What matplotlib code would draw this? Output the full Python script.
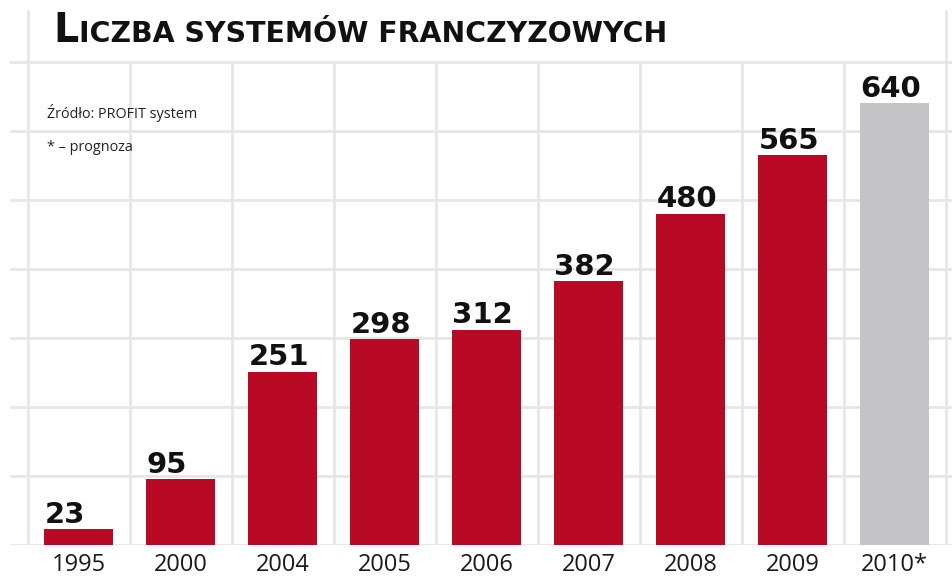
import matplotlib
matplotlib.use("Agg")
import matplotlib.pyplot as plt

# Data
years = ["1995", "2000", "2004", "2005", "2006", "2007", "2008", "2009", "2010*"]
systems = [23, 95, 251, 298, 312, 382, 480, 565, 640]
forecast = [False, False, False, False, False, False, False, False, True]

title_first = "L"
title_rest = "ICZBA SYSTEMÓW FRANCZYZOWYCH"
source_note = "Źródło: PROFIT system"
forecast_note = "* – prognoza"

RED = "#b80a24"
GREY = "#c4c4c6"
GRID = "#e6e6e6"
INK = "#111111"

W, H = 952, 577
fig = plt.figure(figsize=(W / 100, H / 100), dpi=100)
fig.patch.set_facecolor("white")

# axes box in pixels: left 10, right 952, bottom 545, top 10
ax = fig.add_axes([10 / W, (H - 545) / H, 942 / W, 535 / H])
ax.set_facecolor("white")
n = len(years)
x = list(range(n))
ax.set_xlim(-0.6716, 8.5637)
ax.set_ylim(0, 775)

# grid: horizontal lines every 100, vertical lines between categories
for v in range(0, 701, 100):
    ax.axhline(v, color=GRID, lw=2.0, zorder=0)
for b in [i + 0.5 for i in range(n - 1)]:
    ax.vlines(b, 0, 700, color=GRID, lw=2.0, zorder=0)
for b in (-0.5, n - 0.5):
    ax.vlines(b, 0, 775, color=GRID, lw=2.0, zorder=0)

colors = [GREY if f else RED for f in forecast]
bw = 0.667
ax.bar(x, systems, width=bw, color=colors, zorder=2)

for xi, val in zip(x, systems):
    ax.annotate(str(val), xy=(xi - bw / 2, val), xytext=(0, 4.5),
                textcoords="offset points", ha="left", va="baseline",
                fontsize=21, fontweight="bold", family="DejaVu Sans",
                color=INK, zorder=3)

ax.set_xticks(x)
ax.set_xticklabels(years, fontsize=17, family="Open Sans", color="#1a1a1a")
ax.tick_params(axis="x", length=0, pad=6)
ax.set_yticks([])
for s in ax.spines.values():
    s.set_visible(False)

# title with a larger first capital, both parts on one baseline
base_y = 1 - 42 / H
t1 = fig.text(53 / W, base_y, title_first, fontsize=28.5,
              fontweight="bold", family="DejaVu Sans", color=INK,
              ha="left", va="baseline")
fig.canvas.draw()
bb = t1.get_window_extent(renderer=fig.canvas.get_renderer())
fig.text((bb.x1 + 1) / W, base_y, title_rest, fontsize=20.4,
         fontweight="bold", family="DejaVu Sans", color=INK,
         ha="left", va="baseline")

fig.text(47 / W, 1 - 113 / H, source_note, fontsize=10.4, family="Open Sans",
         color="#222222", ha="left", va="center")
fig.text(47 / W, 1 - 147 / H, forecast_note, fontsize=10.4, family="Open Sans",
         color="#222222", ha="left", va="center")

fig.savefig("out.png", dpi=100, facecolor="white")
